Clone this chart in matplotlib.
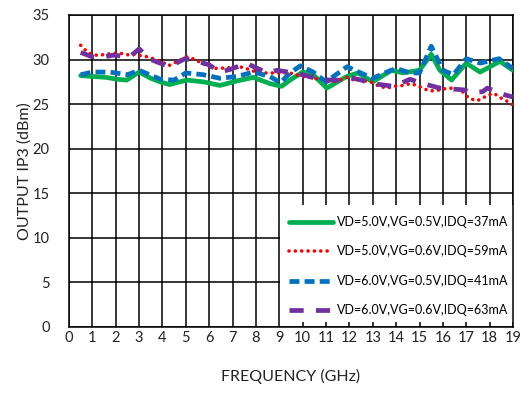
import matplotlib
matplotlib.use("Agg")
import matplotlib.pyplot as plt
from matplotlib.patches import Rectangle

plt.rcParams['font.family'] = ['Lato', 'DejaVu Sans']

labels = ["VD=5.0V,VG=0.5V,IDQ=37mA",
          "VD=5.0V,VG=0.6V,IDQ=59mA",
          "VD=6.0V,VG=0.5V,IDQ=41mA",
          "VD=6.0V,VG=0.6V,IDQ=63mA"]

f_green = [0.5, 1.04, 1.6, 2.04, 2.47, 3.0, 3.5, 3.9, 4.3, 5.04, 5.75, 6.46, 7.18, 7.89, 8.6, 9.1, 9.46,
           10.0, 10.45, 11.03, 11.88, 12.37, 13.0, 13.8, 14.3, 15.0, 15.5, 15.87, 16.37, 17.0, 17.59, 18.44, 19.0]
v_green = [28.2, 28.1, 28.0, 27.8, 27.7, 28.6, 27.9, 27.5, 27.2, 27.7, 27.5, 27.1, 27.6, 28.0, 27.3, 27.0, 27.7,
           28.6, 28.3, 26.8, 28.1, 28.5, 27.5, 28.8, 28.5, 28.8, 30.6, 28.8, 27.7, 29.6, 28.6, 29.8, 28.8]

f_red = [0.5, 0.76, 1.04, 1.33, 1.6, 1.9, 2.2, 2.6, 2.8, 3.1, 3.4, 3.7, 3.96, 4.25, 5.04, 5.3, 5.7, 6.2, 7.0,
         7.3, 7.7, 8.0, 8.3, 8.6, 8.9, 9.2, 9.46, 10.0, 10.3, 10.9, 11.3, 11.6, 11.9, 12.2, 12.5, 12.9, 13.3,
         13.6, 13.9, 14.3, 14.6, 14.9, 15.2, 15.45, 15.7, 16.0, 16.3, 16.6, 16.8, 17.1, 17.4, 17.6, 17.9,
         18.2, 18.4, 18.7, 19.0]
v_red = [31.6, 30.9, 30.5, 30.5, 30.6, 30.7, 30.7, 30.5, 30.6, 30.4, 30.3, 30.0, 29.8, 29.3, 30.3, 30.1, 29.6,
         29.0, 29.1, 29.2, 28.9, 28.6, 28.5, 28.5, 28.5, 28.5, 28.5, 28.1, 28.0, 27.7, 27.5, 27.7, 28.0, 27.7,
         27.7, 27.5, 27.0, 26.8, 27.0, 27.1, 27.3, 27.1, 26.7, 26.5, 26.5, 26.7, 26.8, 26.7, 26.5, 25.7, 25.4,
         25.5, 26.0, 26.2, 25.8, 25.4, 24.9]

f_blue = [0.5, 1.0, 1.75, 2.5, 3.0, 3.9, 4.5, 5.0, 5.75, 6.46, 7.18, 7.9, 8.6, 9.05, 9.46, 9.9, 10.45, 11.0,
          11.9, 12.4, 13.0, 13.6, 14.0, 14.6, 15.0, 15.5, 16.0, 16.45, 17.0, 17.6, 18.4, 19.0]
v_blue = [28.3, 28.6, 28.6, 28.3, 28.8, 27.8, 27.7, 28.5, 28.3, 27.9, 28.1, 28.6, 28.1, 27.4, 28.5, 29.3, 28.6,
          27.5, 29.2, 28.6, 27.9, 28.6, 29.0, 28.5, 28.5, 31.5, 28.8, 28.3, 30.1, 29.6, 30.1, 29.0]

f_purple = [0.5, 1.0, 1.5, 1.9, 2.6, 3.0, 3.5, 3.9, 4.3, 4.96, 5.5, 6.0, 6.46, 6.9, 7.6, 7.9, 8.5, 8.9, 9.6,
            10.0, 10.7, 11.15, 11.7, 12.0, 12.5, 13.0, 13.9, 14.6, 15.0, 15.87, 16.9, 17.2, 17.7, 17.9, 18.7, 19.0]
v_purple = [30.8, 30.3, 30.3, 30.5, 30.3, 31.2, 30.0, 29.6, 29.2, 30.1, 29.8, 29.4, 28.6, 28.9, 29.6, 29.2,
            28.5, 28.8, 28.5, 28.3, 27.8, 27.7, 27.7, 28.0, 27.7, 27.3, 27.0, 27.8, 27.4, 26.8, 26.6, 26.3,
            26.4, 26.8, 26.0, 25.8]

x_ticks = list(range(0, 20))
y_ticks = list(range(0, 40, 5))

fig = plt.figure(figsize=(5.21, 3.95), dpi=100)
ax = fig.add_axes([69/521, 68/395, 444/521, 312/395])

ax.plot(f_green, v_green, color='#00B050', lw=3.4, solid_capstyle='round', solid_joinstyle='round',
        label=labels[0], zorder=3)
ax.plot(f_red, v_red, color='#FF0000', lw=2.6, linestyle=(0, (0.01, 1.75)), dash_capstyle='round',
        label=labels[1], zorder=3)
ax.plot(f_blue, v_blue, color='#0070C0', lw=3.4, linestyle=(0, (2.1, 1.1)), label=labels[2], zorder=3)
ax.plot(f_purple, v_purple, color='#7030A0', lw=3.4, linestyle=(0, (3.0, 2.6)), label=labels[3], zorder=3)

ax.set_xlim(0, 19)
ax.set_ylim(0, 35)
ax.set_xticks(x_ticks)
ax.set_yticks(y_ticks)
ax.tick_params(length=0, labelsize=10.5, colors='#222222')
ax.tick_params(axis='x', pad=3)
ax.tick_params(axis='y', pad=14)
ax.grid(True, color='black', lw=1.1, zorder=1)
ax.set_axisbelow(True)
for s in ax.spines.values():
    s.set_color('black')
    s.set_linewidth(1.1)

ax.add_patch(Rectangle((9.04, 0.6), 19 - 9.04, 13.1, facecolor='white', edgecolor='none', zorder=2))

leg = ax.legend(loc='center left', bbox_to_anchor=(0.485, 0.195), frameon=False, fontsize=9.0,
                handlelength=3.5, handletextpad=0.3, labelspacing=1.4, borderaxespad=0)
leg.set_zorder(4)

ax.set_xlabel('FREQUENCY (GHz)', fontsize=11.5, labelpad=17, color='#222222')
ax.set_ylabel('OUTPUT IP3 (dBm)', fontsize=11.5, color='#222222')
ax.yaxis.set_label_coords(-0.083, 0.5)

fig.savefig('out.png', dpi=100)
